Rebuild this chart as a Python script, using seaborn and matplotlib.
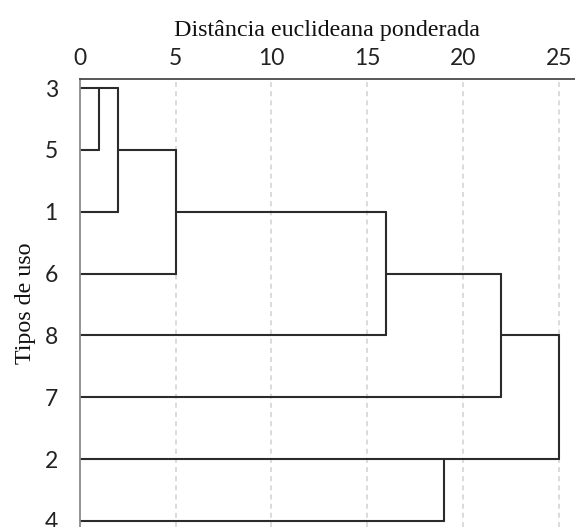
import numpy as np
import pandas as pd
import matplotlib
matplotlib.use("Agg")
import matplotlib.pyplot as plt
import seaborn as sns

# ---- data ----
leaf_order = ["3", "5", "1", "6", "8", "7", "2", "4"]
merge_left = ["3", "C1", "C2", "C3", "C4", "2", "C5"]
merge_right = ["5", "1", "6", "8", "7", "4", "C6"]
merge_dist = [1, 2, 5, 16, 22, 19, 25]
x_ticks = [0, 5, 10, 15, 20, 25]

# ---- build dendrogram segments from merges ----
pos = {lab: i for i, lab in enumerate(leaf_order)}
hgt = {lab: 0.0 for lab in leaf_order}
rows = []
seg = 0
for i, (a, b, d) in enumerate(zip(merge_left, merge_right, merge_dist)):
    pa, pb = pos[a], pos[b]
    for p, h in ((pa, hgt[a]), (pb, hgt[b])):
        rows += [dict(seg=seg, x=h, y=p), dict(seg=seg, x=d, y=p)]
        seg += 1
    rows += [dict(seg=seg, x=d, y=pa), dict(seg=seg, x=d, y=pb)]
    seg += 1
    name = f"C{i+1}"
    pos[name] = int(np.floor((pa + pb) / 2))
    hgt[name] = d
df = pd.DataFrame(rows)

# ---- plot ----
sns.set_theme(style="white")
plt.rcParams["font.family"] = ["Lato", "DejaVu Sans"]

W, H = 575, 527
fig = plt.figure(figsize=(W / 100, H / 100), dpi=100)
ax_left, ax_top = 80, 79
ax = fig.add_axes([ax_left / W, 0, (W - ax_left) / W, (H - ax_top) / H])

for xv in x_ticks[1:]:
    ax.axvline(xv, color="#d4d4d4", lw=1.2, ls=(0, (3, 2.5)), zorder=0)

sns.lineplot(data=df, x="x", y="y", units="seg", estimator=None, sort=False,
             color="#2b2b2b", lw=1.5, ax=ax, legend=False)

ax.set_xlim(0, 25.85)
ax.set_ylim(7.097, -0.1455)
ax.xaxis.tick_top()
ax.xaxis.set_label_position("top")
ax.set_xticks(x_ticks)
ax.set_xticklabels([str(v) for v in x_ticks])
ax.set_yticks(range(len(leaf_order)))
ax.set_yticklabels(leaf_order)
ax.tick_params(axis="x", length=0, pad=7, labelsize=16.5, colors="#222222")
ax.tick_params(axis="y", length=0, pad=16, labelsize=16.5, colors="#222222")

for s in ("right", "bottom"):
    ax.spines[s].set_visible(False)
ax.spines["left"].set_color("#8a8a8a")
ax.spines["left"].set_linewidth(1.3)
ax.spines["top"].set_color("#4a4a4a")
ax.spines["top"].set_linewidth(1.3)

ax.set_xlabel("Distância euclideana ponderada", family="Liberation Serif",
              fontsize=17.3, color="#111111", labelpad=9)
ax.set_ylabel("Tipos de uso", family="Liberation Serif", fontsize=17.3,
              color="#111111")
ax.yaxis.set_label_coords(-0.088, 0.5)

fig.savefig("out.png", dpi=100)
